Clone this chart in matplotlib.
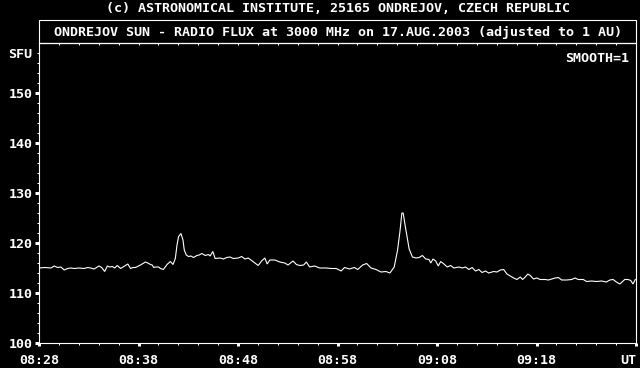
import matplotlib
matplotlib.use("Agg")
import matplotlib.pyplot as plt
from matplotlib.patches import Rectangle
import numpy as np

# ---- data (minutes after 08:28 UT, flux in SFU) ----
minutes = [0.0, 0.6, 1.2, 1.53, 1.87, 2.2, 2.53, 2.87, 3.2, 3.53, 4.0, 4.53, 4.9, 5.2, 5.53,
           6.03, 6.3, 6.6, 6.87, 7.1, 7.37, 7.6, 7.87, 8.2, 8.53, 8.93, 9.2, 9.45, 9.7, 10.2,
           10.45, 10.7, 11.03, 11.2, 11.37, 11.53, 11.7, 11.87, 12.03, 12.2, 12.5, 12.87, 13.2,
           13.47, 13.7, 13.87, 14.03, 14.27, 14.47, 14.6, 14.8, 15.03, 15.27, 15.53, 15.87,
           16.1, 16.37, 16.7, 17.03, 17.2, 17.47, 17.7, 18.2, 18.53, 18.87, 19.2, 19.53, 20.03,
           20.37, 20.7, 21.03, 21.37, 21.7, 22.03, 22.37, 22.7, 22.93, 23.2, 23.7, 24.2, 24.7,
           25.03, 25.53, 25.87, 26.2, 26.6, 26.87, 27.2, 27.7, 28.2, 28.87, 29.37, 29.87, 30.37,
           30.7, 31.2, 31.7, 32.03, 32.53, 32.93, 33.37, 33.87, 34.37, 34.87, 35.27, 35.7, 36.03,
           36.27, 36.47, 36.6, 36.8, 37.03, 37.2, 37.53, 37.87, 38.2, 38.53, 38.87, 39.2, 39.37,
           39.6, 39.87, 40.13, 40.37, 40.7, 41.03, 41.37, 41.7, 42.2, 42.53, 42.87, 43.2, 43.53,
           43.87, 44.2, 44.53, 44.87, 45.2, 45.7, 46.03, 46.37, 46.7, 47.03, 47.37, 47.7, 48.03,
           48.37, 48.6, 48.87, 49.13, 49.37, 49.7, 50.03, 50.37, 50.87, 51.2, 51.53, 51.87, 52.2,
           52.53, 53.03, 53.53, 53.87, 54.2, 54.7, 55.03, 55.53, 56.03, 56.53, 57.03, 57.37,
           57.7, 58.03, 58.37, 58.6, 58.87, 59.2, 59.47, 59.7, 59.93]
flux = [115.0, 115.1, 115.0, 115.4, 115.1, 115.2, 114.6, 114.9, 115.0, 114.9, 115.0, 114.9, 115.1,
        115.0, 114.8, 115.4, 115.1, 114.3, 115.4, 115.2, 115.3, 115.0, 115.5, 114.9, 115.3, 115.8,
        114.9, 115.1, 115.1, 115.6, 115.9, 116.2, 115.9, 115.7, 115.6, 115.1, 115.2, 115.2, 115.2,
        114.9, 114.7, 115.7, 116.3, 115.7, 116.9, 119.6, 121.3, 121.9, 120.6, 118.6, 117.6, 117.3,
        117.4, 117.1, 117.5, 117.6, 117.9, 117.5, 117.7, 117.4, 118.3, 116.9, 117.0, 116.8, 117.1,
        117.2, 116.9, 117.0, 117.3, 116.8, 117.0, 116.5, 116.0, 115.5, 116.4, 117.0, 115.8, 116.6,
        116.6, 116.2, 116.0, 115.6, 116.4, 115.7, 115.5, 115.6, 116.2, 115.2, 115.4, 115.0, 115.0,
        114.9, 114.9, 114.4, 115.1, 114.8, 115.1, 114.7, 115.6, 115.9, 115.0, 114.7, 114.2, 114.3,
        114.0, 115.2, 118.5, 122.2, 126.0, 126.0, 123.5, 120.8, 118.8, 117.2, 117.0, 117.1, 117.5,
        116.8, 116.7, 116.0, 116.8, 116.4, 115.4, 116.3, 115.8, 115.2, 115.5, 115.0, 115.2, 115.0,
        115.2, 114.7, 115.1, 114.4, 114.7, 114.1, 114.4, 114.0, 114.3, 114.2, 114.6, 114.7, 113.8,
        113.4, 113.0, 112.7, 113.2, 112.7, 113.2, 113.8, 113.5, 112.8, 113.0, 112.7, 112.7, 112.6,
        112.8, 113.0, 113.1, 112.6, 112.6, 112.7, 113.0, 112.7, 112.7, 112.3, 112.4, 112.3, 112.4,
        112.2, 112.6, 112.7, 112.2, 111.8, 112.2, 112.7, 112.7, 112.5, 111.8, 112.7]

x_tick_minutes = [0, 10, 20, 30, 40, 50, 60]
x_tick_labels = ["08:28", "08:38", "08:48", "08:58", "09:08", "09:18", "UT"]
y_tick_values = [100, 110, 120, 130, 140, 150]
y_tick_labels = ["100", "110", "120", "130", "140", "150"]
unit_label = "SFU"
unit_value = 158
title_top = "(c) ASTRONOMICAL INSTITUTE, 25165 ONDREJOV, CZECH REPUBLIC"
title_box = "ONDREJOV SUN - RADIO FLUX at 3000 MHz on 17.AUG.2003 (adjusted to 1 AU)"
note_text = "SMOOTH=1"

# ---- figure ----
W, H = 640, 368
DPI = 100
PX = 72.0 / DPI  # points per pixel
FONT = dict(family="DejaVu Sans Mono", weight="bold", size=9.6)

fig = plt.figure(figsize=(W / DPI, H / DPI), dpi=DPI, facecolor="black")
L, R, T, B = 39, 636, 43, 343  # pixel frame (from top-left)
BOX_TOP = 20
ax = fig.add_axes([L / W, 1 - B / H, (R - L) / W, (B - T) / H])
ax.set_facecolor("black")

ax.plot(minutes, flux, color="white", lw=0.8, solid_joinstyle="miter")
ax.set_xlim(0, 60)
ax.set_ylim(100, 160)

for s in ax.spines.values():
    s.set_color("white")
    s.set_linewidth(0.8)

# x ticks
ax.set_xticks(x_tick_minutes)
ax.set_xticklabels(x_tick_labels, **FONT)
ax.set_xticks([m for m in range(0, 61, 2) if m % 10], minor=True)
ax.tick_params(axis="x", which="major", direction="out", length=3 * PX, width=3 * PX,
               colors="white", pad=7.5 * PX)
ax.tick_params(axis="x", which="minor", direction="out", length=2 * PX, width=1 * PX,
               colors="white")
ax.xaxis.get_major_ticks()[-1].label1.set_horizontalalignment("right")

# top ticks (inward, every 2 minutes)
top = ax.secondary_xaxis("top")
top.set_xticks(list(range(0, 61, 2)))
top.tick_params(direction="in", length=2 * PX, width=1 * PX, colors="white", labeltop=False)
top.spines["top"].set_color("white")
top.spines["top"].set_linewidth(0.8)

# y ticks
ax.set_yticks(y_tick_values)
ax.set_yticklabels(y_tick_labels, **FONT)
minor_y = [v for v in range(102, 160, 2) if v % 10]
ax.set_yticks(minor_y, minor=True)
ax.set_yticklabels([unit_label if v == unit_value else "" for v in minor_y], minor=True, **FONT)
ax.tick_params(axis="y", which="major", direction="out", length=4 * PX, width=3 * PX,
               colors="white", pad=2.5 * PX)
ax.tick_params(axis="y", which="minor", direction="out", length=2 * PX, width=1 * PX,
               colors="white", pad=4.7 * PX)

# title box
fig.add_artist(Rectangle((L / W, 1 - T / H), (R - L) / W, (T - BOX_TOP) / H,
                         transform=fig.transFigure, fill=False, ec="white", lw=0.8))

cx = 338.5 / W
fig.text(cx, 1 - 12.5 / H, title_top, ha="center", va="baseline", color="white", **FONT)
fig.text(cx, 1 - 35.7 / H, title_box, ha="center", va="baseline", color="white", **FONT)
fig.text(629 / W, 1 - 61.7 / H, note_text, ha="right", va="baseline", color="white", **FONT)

fig.savefig("out.png", dpi=DPI, facecolor="black")
